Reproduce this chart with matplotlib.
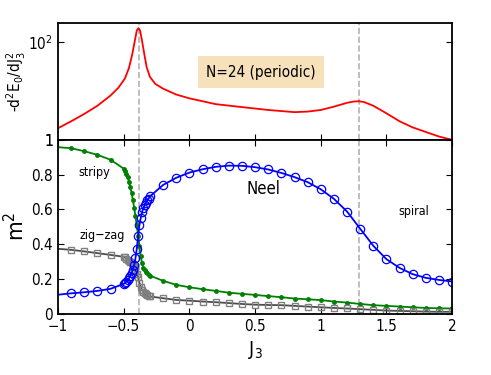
import matplotlib
matplotlib.use('Agg')
import matplotlib.pyplot as plt

plt.rcParams['font.stretch'] = 'condensed'

# d^2E0/dJ3^2 curve (N=24, periodic)
J_red = [-1.0, -0.9, -0.8, -0.7, -0.6, -0.54, -0.49, -0.46, -0.435, -0.415, -0.40,
         -0.388, -0.375, -0.36, -0.343, -0.325, -0.30, -0.26, -0.2, -0.1, 0.0, 0.1,
         0.2, 0.4, 0.6, 0.8, 0.9, 1.0, 1.1, 1.2, 1.25, 1.29, 1.33, 1.4, 1.5, 1.6,
         1.7, 1.8, 1.9, 2.0]
d2E = [1.73, 2.4, 3.4, 5.0, 8.1, 11.7, 18.2, 29.5, 56, 107, 174,
       195, 174, 107, 57.5, 31, 19.5, 14.1, 11.2, 8.5, 7.1, 6.2,
       5.4, 4.7, 4.1, 3.7, 3.8, 4.1, 4.8, 5.75, 6.1, 6.2, 5.95, 5.0, 3.5, 2.4,
       1.8, 1.45, 1.17, 1.0]

# order parameters m^2 vs J3
J = [-1.0, -0.9, -0.8, -0.7, -0.6,
     -0.50, -0.49, -0.48, -0.47, -0.46, -0.45, -0.44, -0.43, -0.42, -0.41, -0.40,
     -0.39, -0.38, -0.37, -0.36, -0.35, -0.34, -0.33, -0.32, -0.31, -0.30,
     -0.2, -0.1, 0.0, 0.1, 0.2, 0.3, 0.4, 0.5, 0.6, 0.7, 0.8, 0.9, 1.0,
     1.1, 1.2, 1.3, 1.4, 1.5, 1.6, 1.7, 1.8, 1.9, 2.0]
stripy = [0.958, 0.952, 0.935, 0.914, 0.886,
          0.835, 0.822, 0.806, 0.786, 0.76, 0.73, 0.697, 0.655, 0.61, 0.56, 0.51,
          0.45, 0.39, 0.33, 0.29, 0.265, 0.25, 0.24, 0.233, 0.226, 0.22,
          0.19, 0.167, 0.153, 0.142, 0.132, 0.122, 0.115, 0.109, 0.102, 0.096, 0.088, 0.084, 0.079,
          0.071, 0.065, 0.057, 0.05, 0.046, 0.042, 0.038, 0.034, 0.032, 0.031]
neel = [0.11, 0.118, 0.124, 0.132, 0.144,
        0.172, 0.178, 0.185, 0.193, 0.204, 0.217, 0.234, 0.255, 0.28, 0.32, 0.375,
        0.445, 0.51, 0.55, 0.585, 0.607, 0.624, 0.638, 0.652, 0.663, 0.675,
        0.741, 0.782, 0.812, 0.831, 0.845, 0.852, 0.851, 0.843, 0.83, 0.81, 0.786, 0.757, 0.716,
        0.661, 0.588, 0.489, 0.391, 0.314, 0.264, 0.228, 0.207, 0.195, 0.186]
zigzag = [0.374, 0.368, 0.359, 0.349, 0.339,
          0.328, 0.324, 0.318, 0.312, 0.305, 0.298, 0.29, 0.28, 0.268, 0.252, 0.232,
          0.21, 0.18, 0.155, 0.137, 0.126, 0.118, 0.112, 0.107, 0.103, 0.10,
          0.09, 0.08, 0.076, 0.071, 0.067, 0.062, 0.057, 0.053, 0.051, 0.05, 0.046, 0.042, 0.038,
          0.034, 0.031, 0.027, 0.023, 0.019, 0.017, 0.015, 0.013, 0.012, 0.012]

J_crit = [-0.385, 1.29]

fig = plt.figure(figsize=(4.91, 3.75), dpi=100)
ax1 = fig.add_axes([0.118, 0.627, 0.803, 0.312])
ax2 = fig.add_axes([0.118, 0.163, 0.803, 0.464])

for ax in (ax1, ax2):
    for s in ax.spines.values():
        s.set_linewidth(1.3)
    for xc in J_crit:
        ax.axvline(xc, color='0.7', ls='--', lw=1.2, zorder=0)
    ax.set_xlim(-1, 2)

# top panel
ax1.semilogy(J_red, d2E, 'r-', lw=1.3)
ax1.set_ylim(1, 250)
ax1.set_yticks([1, 100])
ax1.set_yticklabels(['1', r'$10^2$'])
ax1.minorticks_off()
ax1.set_xticks([-0.5, 0, 0.5, 1, 1.5])
ax1.tick_params(axis='x', direction='in', top=False, labelbottom=False, length=4)
ax1.tick_params(axis='y', direction='in', right=True, length=4, labelsize=11)
ax1.set_ylabel(r'-d$^2$E$_0$/dJ$_3^2$', fontsize=11)
ax1.yaxis.set_label_coords(-0.075, 0.5)
ax1.text(0.515, 0.58, 'N=24 (periodic)', transform=ax1.transAxes, ha='center', va='center',
         fontsize=11, bbox=dict(boxstyle='square,pad=0.55', facecolor='wheat', edgecolor='none', alpha=0.9))

# bottom panel
marks = range(1, len(J))
ax2.plot(J, stripy, '-', color='g', lw=1.3, marker='o', ms=2.5, markevery=marks)
ax2.plot(J, zigzag, '-', color='0.3', lw=1.3, marker='s', ms=4.5, mfc='none', mec='0.5',
         mew=1.0, markevery=marks)
ax2.plot(J, neel, '-', color='b', lw=1.3, marker='o', ms=6, mfc='none', mew=0.9,
         markevery=marks)
ax2.set_ylim(0, 1)
ax2.set_yticks([0, 0.2, 0.4, 0.6, 0.8, 1])
ax2.set_yticklabels(['0', '0.2', '0.4', '0.6', '0.8', '1'])
ax2.set_xticks([-1, -0.5, 0, 0.5, 1, 1.5, 2])
ax2.set_xticklabels(['\u22121', '\u22120.5', '0', '0.5', '1', '1.5', '2'])
ax2.tick_params(direction='in', top=True, right=True, length=4, labelsize=11)
ax2.set_xlabel(r'J$_3$', fontsize=14)
ax2.set_ylabel(r'm$^2$', fontsize=16)
ax2.yaxis.set_label_coords(-0.075, 0.5)

ax2.text(-0.72, 0.81, 'stripy', fontsize=9, ha='center', va='center')
ax2.text(-0.66, 0.45, 'zig\u2212zag', fontsize=9, ha='center', va='center')
ax2.text(0.56, 0.72, 'Neel', fontsize=12, ha='center', va='center')
ax2.text(1.71, 0.59, 'spiral', fontsize=9, ha='center', va='center')

fig.savefig('out.png', dpi=100)
